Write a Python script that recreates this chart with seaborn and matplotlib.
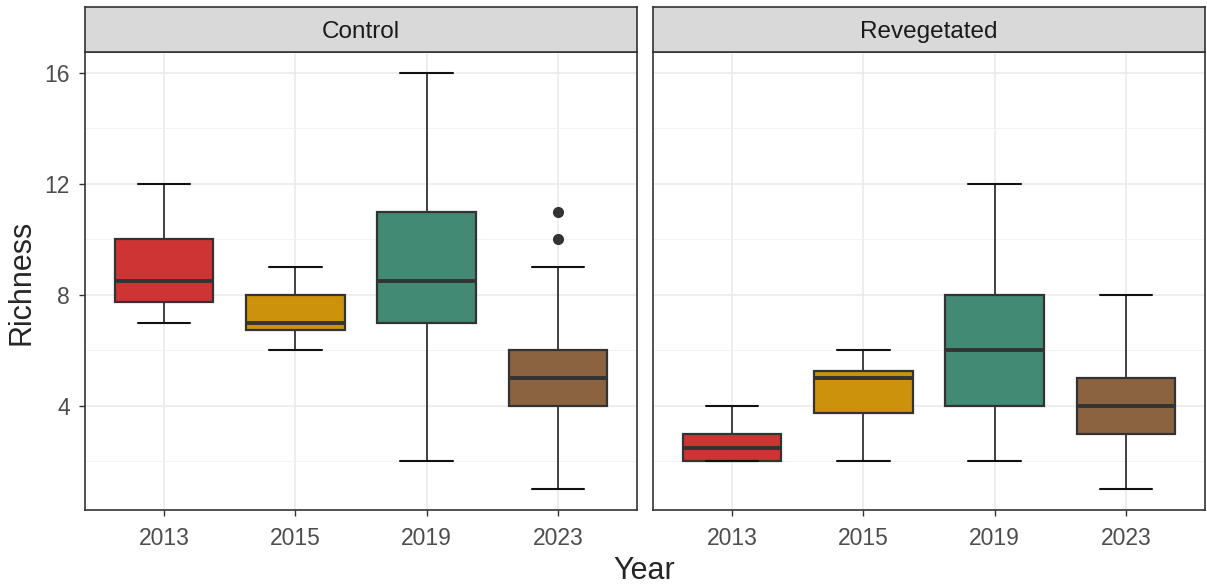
import matplotlib
matplotlib.use("Agg")
import matplotlib.pyplot as plt
import seaborn as sns
from matplotlib.ticker import FixedLocator

# categories
years = ["2013", "2015", "2019", "2023"]
treatments = ["Control", "Revegetated"]
year_colors = ["#CF3434", "#CC920C", "#428A73", "#8B6341"]

# box summaries (lower whisker, q1, median, q3, upper whisker)
control_low = [7, 6, 2, 1]
control_q1 = [7.75, 6.75, 7, 4]
control_med = [8.5, 7, 8.5, 5]
control_q3 = [10, 8, 11, 6]
control_high = [12, 9, 16, 9]
control_outliers = [[], [], [], [10, 11]]

reveg_low = [2, 2, 2, 1]
reveg_q1 = [2, 3.75, 4, 3]
reveg_med = [2.5, 5, 6, 4]
reveg_q3 = [3, 5.25, 8, 5]
reveg_high = [4, 6, 12, 8]
reveg_outliers = [[], [], [], []]


def box_stats(low, q1, med, q3, high, fliers):
    return [dict(whislo=a, q1=b, med=c, q3=d, whishi=e, fliers=f, label=y)
            for a, b, c, d, e, f, y in zip(low, q1, med, q3, high, fliers, years)]


panel_stats = {
    "Control": box_stats(control_low, control_q1, control_med, control_q3,
                         control_high, control_outliers),
    "Revegetated": box_stats(reveg_low, reveg_q1, reveg_med, reveg_q3,
                             reveg_high, reveg_outliers),
}

sns.set_theme(style="whitegrid")
plt.rcParams["font.family"] = ["Liberation Sans", "DejaVu Sans"]

W, H = 1207, 587
fig = plt.figure(figsize=(W / 100, H / 100), dpi=100)
palette = sns.color_palette(year_colors)

panel_left = [85, 653]
panel_w = 552
top, bottom = 52, 510
strip_top = 7
dark = "#333333"

for i, treat in enumerate(treatments):
    x0 = panel_left[i] / W
    ax = fig.add_axes([x0, (H - bottom) / H, panel_w / W, (bottom - top) / H])
    ax.set_facecolor("white")
    ax.set_axisbelow(True)

    bp = ax.bxp(panel_stats[treat], positions=range(1, 5), widths=0.75,
                patch_artist=True, capwidths=0.4,
                boxprops=dict(edgecolor=dark, linewidth=1.6),
                medianprops=dict(color=dark, linewidth=2.8),
                whiskerprops=dict(color=dark, linewidth=1.3),
                capprops=dict(color="#111111", linewidth=1.5),
                flierprops=dict(marker="o", markerfacecolor=dark,
                                markeredgecolor=dark, markersize=7))
    for patch, col in zip(bp["boxes"], palette):
        patch.set_facecolor(col)

    ax.set_xlim(0.4, 4.6)
    ax.set_ylim(0.25, 16.75)
    ax.yaxis.set_major_locator(FixedLocator([4, 8, 12, 16]))
    ax.yaxis.set_minor_locator(FixedLocator([2, 6, 10, 14]))
    ax.set_xticks(range(1, 5))
    ax.set_xticklabels(years)
    ax.grid(True, which="major", color="#EBEBEB", linewidth=1.2)
    ax.grid(True, which="minor", axis="y", color="#F2F2F2", linewidth=0.7)
    ax.tick_params(axis="both", which="major", length=4.5, width=1, color=dark,
                   labelcolor="#4D4D4D", labelsize=16.5, bottom=True, left=(i == 0))
    ax.tick_params(axis="x", which="major", pad=8)
    ax.tick_params(axis="y", which="major", pad=6.5)
    ax.tick_params(axis="both", which="minor", length=0)
    if i == 1:
        ax.set_yticklabels([])
    for sp in ax.spines.values():
        sp.set_color(dark)
        sp.set_linewidth(1.2)

    strip = fig.add_axes([x0, (H - top) / H, panel_w / W, (top - strip_top) / H])
    strip.set_facecolor("#D9D9D9")
    strip.set_xticks([])
    strip.set_yticks([])
    for sp in strip.spines.values():
        sp.set_color(dark)
        sp.set_linewidth(1.2)
    strip.text(0.5, 0.45, treat, ha="center", va="center", fontsize=17.5,
               color="#1A1A1A", transform=strip.transAxes)

fig.text(644 / W, 1 - 571 / H, "Year", ha="center", va="center", fontsize=22)
fig.text(22 / W, 1 - 282 / H, "Richness", ha="center", va="center",
         rotation=90, fontsize=22)

fig.savefig("out.png", dpi=100)
plt.close(fig)
